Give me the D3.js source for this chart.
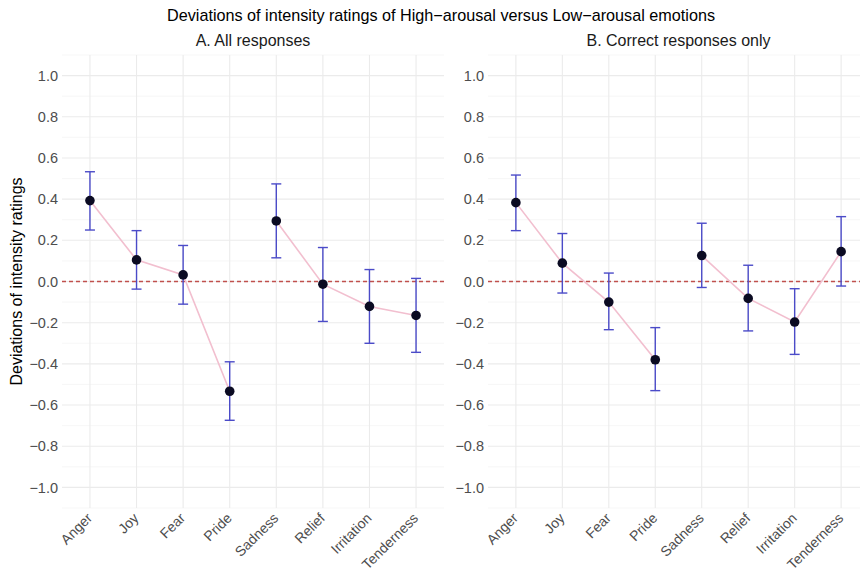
<!DOCTYPE html>
<html lang="en">
<head>
    <meta charset="UTF-8">
    <title>Deviations of intensity ratings</title>
    <script src="https://cdn.jsdelivr.net/npm/d3@7"></script>
    <style>
        body, html { margin: 0; padding: 0; background: #fff; overflow: hidden; }
        svg { display: block; font-family: "Liberation Sans", Arial, sans-serif; }
    </style>
</head>
<body>
    <svg id="mainsvg"></svg>
    <script>
        // emotions on the x axis
        const emotions = ['Anger', 'Joy', 'Fear', 'Pride', 'Sadness', 'Relief', 'Irritation', 'Tenderness'];
        // line groups: high-arousal vs low-arousal
        const groupOf = ['high', 'high', 'high', 'high', 'low', 'low', 'low', 'low'];

        // panel A: all responses
        const allMean  = [0.393, 0.105, 0.032, -0.533, 0.294, -0.013, -0.121, -0.165];
        const allUpper = [0.533, 0.247, 0.175, -0.390, 0.474, 0.165, 0.058, 0.015];
        const allLower = [0.250, -0.037, -0.110, -0.674, 0.115, -0.194, -0.300, -0.344];

        // panel B: correct responses only
        const corMean  = [0.383, 0.089, -0.100, -0.380, 0.126, -0.082, -0.197, 0.145];
        const corUpper = [0.517, 0.233, 0.041, -0.224, 0.283, 0.079, -0.035, 0.315];
        const corLower = [0.247, -0.056, -0.234, -0.530, -0.029, -0.240, -0.354, -0.022];

        const yTicks = [-1.0, -0.8, -0.6, -0.4, -0.2, 0.0, 0.2, 0.4, 0.6, 0.8, 1.0];

        const width = 860, height = 573;
        const svg = d3.select('svg').attr('width', width).attr('height', height);

        const plotTop = 55, plotBottom = 508;
        const panels = [
            { title: 'A. All responses', left: 62, right: 444, mean: allMean, upper: allUpper, lower: allLower },
            { title: 'B. Correct responses only', left: 488, right: 869, mean: corMean, upper: corUpper, lower: corLower }
        ];

        const yScale = d3.scaleLinear().domain([-1.1, 1.1]).range([plotBottom, plotTop]);

        svg.append('text')
            .attr('x', 441).attr('y', 21)
            .attr('text-anchor', 'middle')
            .attr('font-size', '16.2px')
            .attr('fill', '#000')
            .text('Deviations of intensity ratings of High\u2212arousal versus Low\u2212arousal emotions');

        svg.append('text')
            .attr('transform', `translate(22, ${(plotTop + plotBottom) / 2}) rotate(-90)`)
            .attr('text-anchor', 'middle')
            .attr('font-size', '16px')
            .attr('fill', '#000')
            .text('Deviations of intensity ratings');

        panels.forEach(p => {
            const xScale = d3.scalePoint().domain(emotions)
                .range([p.left, p.right]).padding(0.6);

            const g = svg.append('g');

            // minor grid
            const minor = d3.range(-1.1, 1.11, 0.2).map(v => +v.toFixed(1));
            g.selectAll('.minor').data(minor).enter().append('line')
                .attr('x1', p.left).attr('x2', p.right)
                .attr('y1', d => yScale(d)).attr('y2', d => yScale(d))
                .attr('stroke', '#f3f3f3').attr('stroke-width', 0.7);

            // major grid
            g.selectAll('.major').data(yTicks).enter().append('line')
                .attr('x1', p.left).attr('x2', p.right)
                .attr('y1', d => yScale(d)).attr('y2', d => yScale(d))
                .attr('stroke', '#ebebeb').attr('stroke-width', 1.1);

            g.selectAll('.vgrid').data(emotions).enter().append('line')
                .attr('x1', d => xScale(d)).attr('x2', d => xScale(d))
                .attr('y1', plotTop).attr('y2', plotBottom)
                .attr('stroke', '#ebebeb').attr('stroke-width', 1.1);

            // y axis labels
            const yAxis = d3.axisLeft(yScale).tickValues(yTicks)
                .tickFormat(d3.format('.1f')).tickSize(0).tickPadding(4);
            const yg = g.append('g').attr('transform', `translate(${p.left}, 0)`).call(yAxis);
            yg.select('.domain').remove();
            yg.selectAll('text').attr('font-size', '14.5px').attr('fill', '#4d4d4d')
                .attr('font-family', '"Liberation Sans", Arial, sans-serif')
                .text(d => d3.format('.1f')(d).replace('-', '\u2212'));

            // x axis labels rotated
            g.selectAll('.xlab').data(emotions).enter().append('text')
                .attr('transform', d => `translate(${xScale(d) + 3}, ${plotBottom + 11}) rotate(-45)`)
                .attr('text-anchor', 'end')
                .attr('font-size', '14px')
                .attr('fill', '#4d4d4d')
                .text(d => d);

            // panel title
            g.append('text')
                .attr('x', (p.left + p.right) / 2).attr('y', 46)
                .attr('text-anchor', 'middle')
                .attr('font-size', '16px')
                .attr('fill', '#1a1a1a')
                .text(p.title);

            // zero reference line
            g.append('line')
                .attr('x1', p.left).attr('x2', p.right)
                .attr('y1', yScale(0)).attr('y2', yScale(0))
                .attr('stroke', '#c0504d').attr('stroke-width', 1.3)
                .attr('stroke-dasharray', '4,3');

            const rows = emotions.map((e, i) => ({
                emotion: e, group: groupOf[i],
                mean: p.mean[i], upper: p.upper[i], lower: p.lower[i]
            }));

            // connecting lines per group
            const line = d3.line().x(d => xScale(d.emotion)).y(d => yScale(d.mean));
            ['high', 'low'].forEach(grp => {
                g.append('path')
                    .datum(rows.filter(r => r.group === grp))
                    .attr('d', line)
                    .attr('fill', 'none')
                    .attr('stroke', '#f2bfcf')
                    .attr('stroke-width', 1.6);
            });

            // error bars
            const eb = g.selectAll('.eb').data(rows).enter().append('g').attr('stroke', '#4b4bc8').attr('stroke-width', 1.4);
            eb.append('line')
                .attr('x1', d => xScale(d.emotion)).attr('x2', d => xScale(d.emotion))
                .attr('y1', d => yScale(d.upper)).attr('y2', d => yScale(d.lower));
            eb.append('line')
                .attr('x1', d => xScale(d.emotion) - 5).attr('x2', d => xScale(d.emotion) + 5)
                .attr('y1', d => yScale(d.upper)).attr('y2', d => yScale(d.upper));
            eb.append('line')
                .attr('x1', d => xScale(d.emotion) - 5).attr('x2', d => xScale(d.emotion) + 5)
                .attr('y1', d => yScale(d.lower)).attr('y2', d => yScale(d.lower));

            // points
            g.selectAll('.pt').data(rows).enter().append('circle')
                .attr('cx', d => xScale(d.emotion))
                .attr('cy', d => yScale(d.mean))
                .attr('r', 4.8)
                .attr('fill', '#0b0b22');
        });
    </script>
</body>
</html>
